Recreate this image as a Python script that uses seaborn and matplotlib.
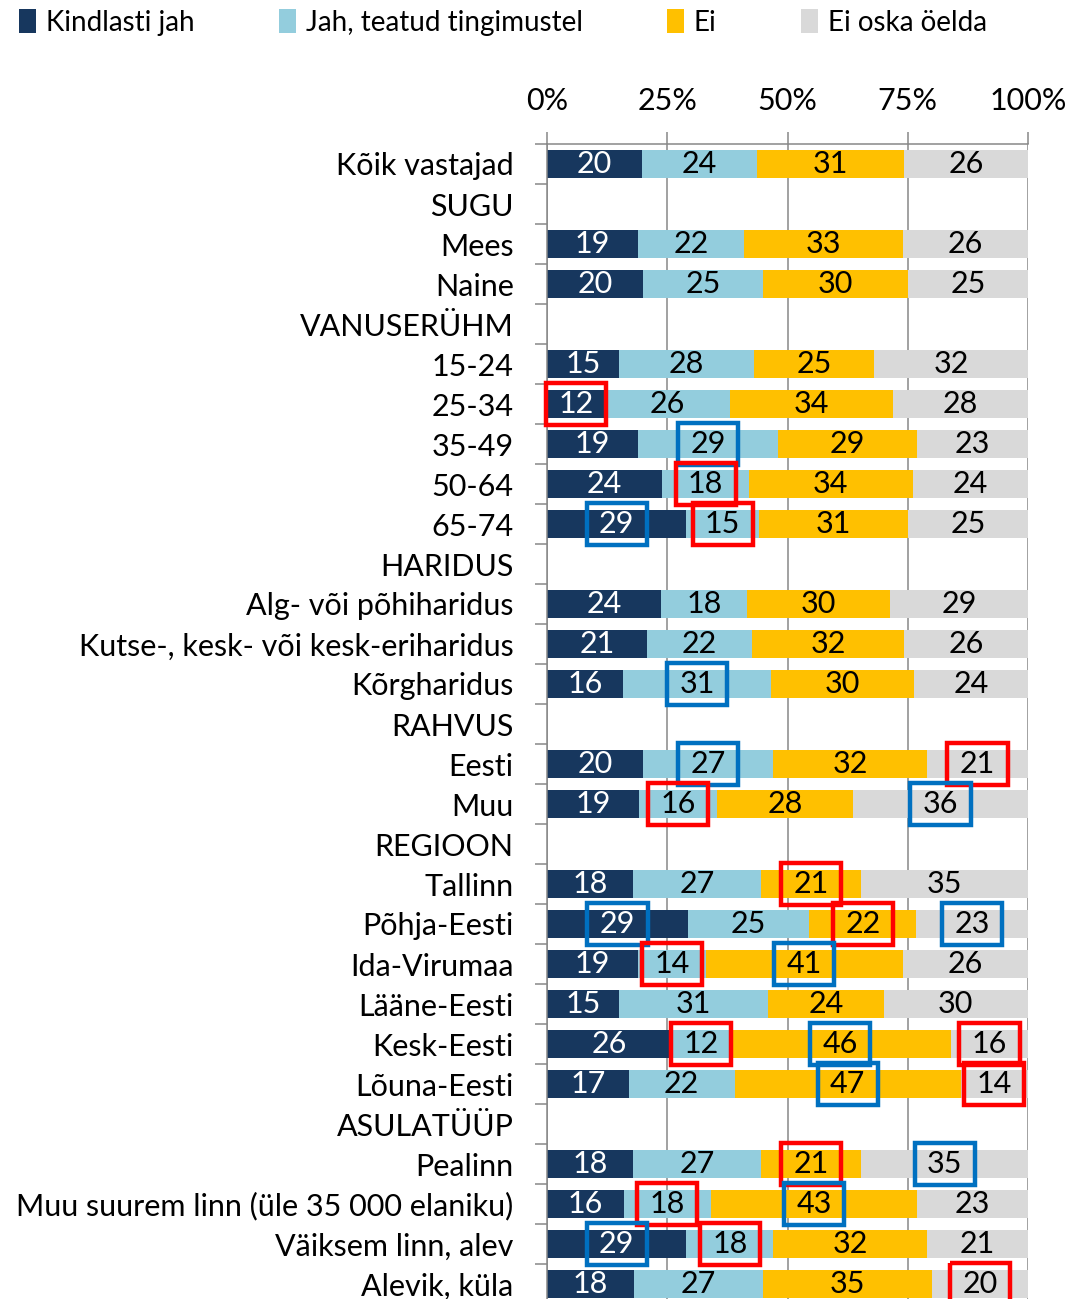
import matplotlib
matplotlib.use("Agg")
import matplotlib.pyplot as plt
from matplotlib.patches import Patch, Rectangle
from matplotlib.ticker import FuncFormatter, FixedLocator
import numpy as np
import pandas as pd
import seaborn as sns

nan = np.nan

rows = ["Kõik vastajad", "SUGU", "Mees", "Naine", "VANUSERÜHM", "15-24", "25-34",
        "35-49", "50-64", "65-74", "HARIDUS", "Alg- või põhiharidus",
        "Kutse-, kesk- või kesk-eriharidus", "Kõrgharidus", "RAHVUS", "Eesti", "Muu",
        "REGIOON", "Tallinn", "Põhja-Eesti", "Ida-Virumaa", "Lääne-Eesti", "Kesk-Eesti",
        "Lõuna-Eesti", "ASULATÜÜP", "Pealinn", "Muu suurem linn (üle 35 000 elaniku)",
        "Väiksem linn, alev", "Alevik, küla"]

series = ["Kindlasti jah", "Jah, teatud tingimustel", "Ei", "Ei oska öelda"]

kindlasti_jah = [20, nan, 19, 20, nan, 15, 12, 19, 24, 29, nan, 24, 21, 16, nan, 20, 19,
                 nan, 18, 29, 19, 15, 26, 17, nan, 18, 16, 29, 18]
jah_teatud = [24, nan, 22, 25, nan, 28, 26, 29, 18, 15, nan, 18, 22, 31, nan, 27, 16,
              nan, 27, 25, 14, 31, 12, 22, nan, 27, 18, 18, 27]
ei = [31, nan, 33, 30, nan, 25, 34, 29, 34, 31, nan, 30, 32, 30, nan, 32, 28,
      nan, 21, 22, 41, 24, 46, 47, nan, 21, 43, 32, 35]
ei_oska = [26, nan, 26, 25, nan, 32, 28, 23, 24, 25, nan, 29, 26, 24, nan, 21, 36,
           nan, 35, 23, 26, 30, 16, 14, nan, 35, 23, 21, 20]

# highlighted cells: (row, series index, colour)
highlights = [
    ("25-34", 0, "red"), ("35-49", 1, "blue"), ("50-64", 1, "red"),
    ("65-74", 0, "blue"), ("65-74", 1, "red"), ("Kõrgharidus", 1, "blue"),
    ("Eesti", 1, "blue"), ("Eesti", 3, "red"), ("Muu", 1, "red"), ("Muu", 3, "blue"),
    ("Tallinn", 2, "red"), ("Põhja-Eesti", 0, "blue"), ("Põhja-Eesti", 2, "red"),
    ("Põhja-Eesti", 3, "blue"), ("Ida-Virumaa", 1, "red"), ("Ida-Virumaa", 2, "blue"),
    ("Kesk-Eesti", 1, "red"), ("Kesk-Eesti", 2, "blue"), ("Kesk-Eesti", 3, "red"),
    ("Lõuna-Eesti", 2, "blue"), ("Lõuna-Eesti", 3, "red"), ("Pealinn", 2, "red"),
    ("Pealinn", 3, "blue"), ("Muu suurem linn (üle 35 000 elaniku)", 1, "red"),
    ("Muu suurem linn (üle 35 000 elaniku)", 2, "blue"), ("Väiksem linn, alev", 0, "blue"),
    ("Väiksem linn, alev", 1, "red"), ("Alevik, küla", 3, "red"),
]

colors = ["#17375E", "#93CDDD", "#FFC000", "#D9D9D9"]
text_colors = ["white", "black", "black", "black"]
box_colors = {"red": "#FF0000", "blue": "#0070C0"}

sns.set_style("white")
plt.rcParams['font.family'] = ['Lato', 'DejaVu Sans']
plt.rcParams['text.color'] = 'black'
fs = 22

vals = np.array([kindlasti_jah, jah_teatud, ei, ei_oska], dtype=float).T
share = vals / vals.sum(axis=1, keepdims=True) * 100
cum = np.cumsum(share, axis=1)

df = pd.DataFrame({"row": rows})
for j in range(4):
    df["c%d" % j] = cum[:, j]

fig = plt.figure(figsize=(10.67, 12.99), dpi=100)
ax = fig.add_axes([547 / 1067, 1 - 1304 / 1299, 481 / 1067, 1160 / 1299])

for j in reversed(range(4)):
    sns.barplot(data=df, x="c%d" % j, y="row", order=rows, orient="h", color=colors[j],
                saturation=1, width=0.68, linewidth=0, errorbar=None, ax=ax, zorder=2)

# value labels
for i in range(len(rows)):
    for j in range(4):
        if np.isnan(vals[i, j]):
            continue
        xc = cum[i, j] - share[i, j] / 2
        ax.text(xc, i, "%d" % vals[i, j], ha="center", va="center",
                fontsize=fs, color=text_colors[j], zorder=4)

# highlight boxes
bw, bh = 12.5, 1.05
for r, j, c in highlights:
    i = rows.index(r)
    xc = cum[i, j] - share[i, j] / 2
    ax.add_patch(Rectangle((xc - bw / 2, i - bh / 2), bw, bh, fill=False,
                           edgecolor=box_colors[c], linewidth=3.2, zorder=5,
                           clip_on=False))

ax.set_xlim(0, 100)
ax.set_xlabel("")
ax.set_ylabel("")
ax.xaxis.tick_top()
ax.set_xticks([0, 25, 50, 75, 100])
ax.xaxis.set_major_formatter(FuncFormatter(lambda v, p: "%d%%" % v))
ax.tick_params(axis="x", which="major", length=8.6, width=1.1, color="#878787",
               labelcolor="black", pad=12, labelsize=fs)
ax.tick_params(axis="y", which="major", length=0, pad=24, labelsize=fs, labelcolor="black")
ax.yaxis.set_minor_locator(FixedLocator(np.arange(-0.5, len(rows), 1)))
ax.tick_params(axis="y", which="minor", left=True, length=8.6, width=1.1, color="#878787")
ax.grid(axis="x", color="#878787", linewidth=1.1, zorder=0)
ax.set_axisbelow(True)
for s in ["right", "bottom"]:
    ax.spines[s].set_visible(False)
for s in ["top", "left"]:
    ax.spines[s].set_color("#878787")
    ax.spines[s].set_linewidth(1.1)

handles = [Patch(facecolor=c, edgecolor="none") for c in colors]
fig.legend(handles, series, loc="upper left", bbox_to_anchor=(0.0, 1.008), ncol=4,
           frameon=False, fontsize=20, columnspacing=3.05, handlelength=0.6,
           handleheight=0.95, handletextpad=0.35, borderaxespad=0.3)

fig.savefig("out.png", dpi=100)
